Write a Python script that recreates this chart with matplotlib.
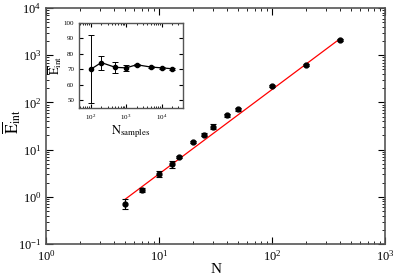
import numpy as np
import matplotlib.pyplot as plt

plt.rcParams['font.family'] = ['Liberation Serif', 'DejaVu Serif']
plt.rcParams['mathtext.fontset'] = 'stix'

# main panel data
N = [5, 7, 10, 13, 15, 20, 25, 30, 40, 50, 100, 200, 400]
E = [0.72, 1.4, 3.1, 4.9, 7.1, 14.6, 20.8, 30.8, 53, 71, 219, 620, 2150]
E_err = [0.16, 0.15, 0.5, 0.9, 0.4, 0.8, 1.5, 3.5, 3, 4, 10, 40, 100]

# power-law fit endpoints
fit_N = [5, 400]
fit_E = [0.89, 2250]

# inset data
samples = [100, 200, 500, 1000, 2000, 5000, 10000, 20000]
E_s = [70, 74.4, 71.3, 71, 73, 71.5, 71, 70.4]
E_s_err = [22, 4.5, 3.7, 2, 0.8, 0.6, 0.6, 0.5]

fig = plt.figure(figsize=(3.95, 2.77), dpi=100)
ax = fig.add_axes([0.117, 0.119, 0.858, 0.852])

ax.plot(fit_N, fit_E, color='red', lw=0.9, zorder=1)
ax.errorbar(N, E, yerr=E_err, fmt='o', color='black', ms=3.5,
            capsize=2.5, elinewidth=0.8, capthick=0.8, zorder=2)
ax.set_xscale('log')
ax.set_yscale('log')
ax.set_xlim(1, 1000)
ax.set_ylim(0.1, 10000)
ax.set_xlabel('N', fontsize=11)
ax.set_ylabel(r'$\overline{\mathrm{E}}_{\mathrm{int}}$', fontsize=12)
ax.xaxis.set_label_coords(0.501, -0.082)
ax.yaxis.set_label_coords(-0.068, 0.52)
ax.tick_params(which='both', direction='in', top=True, right=True, labelsize=9)
ax.tick_params(which='major', length=5)
ax.tick_params(which='minor', length=2.5)
for s in ax.spines.values():
    s.set_linewidth(1.2)
    s.set_color('#555555')

ins = fig.add_axes([0.2, 0.61, 0.263, 0.307])
ins.errorbar(samples, E_s, yerr=E_s_err, fmt='-o', color='black', ms=3,
             lw=0.9, capsize=2.5, elinewidth=0.7, capthick=0.7)
ins.set_xscale('log')
ins.set_xlim(47, 40000)
ins.set_ylim(45, 100)
ins.set_yticks([50, 60, 70, 80, 90, 100])
ins.set_xlabel(r'$\mathrm{N}_{\mathrm{samples}}$', fontsize=9, labelpad=1)
ins.set_ylabel(r'$\overline{\mathrm{E}}_{\mathrm{int}}$', fontsize=9, labelpad=0)
ins.tick_params(which='both', direction='in', top=True, right=True, labelsize=5)
ins.tick_params(which='major', length=3)
ins.tick_params(which='minor', length=1.5)
for s in ins.spines.values():
    s.set_linewidth(1.0)
    s.set_color('#555555')

fig.savefig('out.png', dpi=100)
